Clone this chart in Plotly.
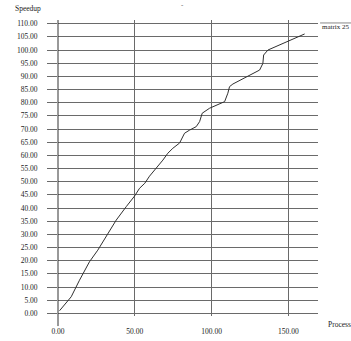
import plotly.graph_objects as go

# Data
processors = [1, 8.6, 14.0, 20.5, 25.9, 32.4, 37.9, 44.4, 49.8, 53.1, 56.5, 59.6, 64.0, 68.3,
              71.5, 74.8, 79.2, 82.4, 85.7, 90.0, 92.2, 93.9, 98.7, 105.2, 108.5, 110.6,
              111.7, 113.9, 122.6, 131.3, 133.4, 133.9, 136.7, 144.3, 149.7, 155.2, 160.6]
speedup = [1.0, 6.3, 12.6, 19.6, 24.0, 30.4, 35.4, 40.5, 44.5, 47.5, 49.4, 52.1, 55.1, 58.2,
           60.8, 62.7, 64.7, 68.4, 69.6, 70.9, 72.8, 76.0, 77.9, 79.5, 80.4, 83.6,
           86.1, 87.1, 89.9, 92.4, 94.9, 98.1, 100.0, 101.9, 103.2, 104.8, 106.1]
series_name = "matrix 25"
y_ticks = [i * 5 for i in range(23)]
x_ticks = [0, 50, 100, 150]

FONT = "Liberation Serif"
GRID = "#6a6a6a"
TXT = "#222222"

fig = go.Figure()
fig.add_trace(go.Scatter(x=processors, y=speedup, mode="lines",
                         line=dict(color="#303030", width=1), name=series_name,
                         showlegend=False))

fig.update_layout(
    width=351, height=341,
    margin=dict(l=58, r=33, t=20, b=25, autoexpand=False),
    paper_bgcolor="white", plot_bgcolor="white",
    font=dict(family=FONT, size=8, color=TXT),
    showlegend=False,
    xaxis=dict(range=[0, 169.3], tickvals=x_ticks, tickformat=".2f",
               showgrid=True, gridcolor=GRID, gridwidth=1, zeroline=False,
               showline=False, ticks="", ticklabelstandoff=9, automargin=False,
               tickfont=dict(family=FONT, size=7.5, color=TXT)),
    yaxis=dict(range=[-1.0, 111.4], tickvals=y_ticks, tickformat=".2f",
               showgrid=True, gridcolor=GRID, gridwidth=1, zeroline=False,
               showline=False, ticks="outside", ticklen=10, tickcolor=GRID,
               ticklabelstandoff=8, automargin=False,
               tickfont=dict(family=FONT, size=7.5, color=TXT)),
    shapes=[
        dict(type="line", xref="paper", yref="paper", x0=0, x1=0, y0=-0.034, y1=1,
             line=dict(color="#333", width=1)),
        dict(type="line", xref="paper", yref="paper", x0=1.008, x1=1.2, y0=0.99, y1=0.99,
             line=dict(color="#888", width=1)),
    ],
    annotations=[
        dict(text="Speedup", xref="paper", yref="paper", x=-0.175, y=1.04,
             xanchor="left", yanchor="middle", showarrow=False,
             font=dict(family=FONT, size=7.5, color=TXT)),
        dict(text="Processors", xref="paper", yref="paper", x=1.03, y=-0.030,
             xanchor="left", yanchor="middle", showarrow=False,
             font=dict(family=FONT, size=7.5, color=TXT)),
        dict(text=series_name, xref="paper", yref="paper", x=1.008, y=0.975,
             xanchor="left", yanchor="middle", showarrow=False,
             font=dict(family=FONT, size=7, color=TXT)),
        dict(text="-", xref="paper", yref="paper", x=0.48, y=1.05,
             xanchor="center", yanchor="middle", showarrow=False,
             font=dict(family=FONT, size=7, color="#444")),
    ],
)

fig.write_html("out.html", config={"displayModeBar": False},
               post_script="document.body.style.margin='0';document.body.style.overflow='hidden';")
